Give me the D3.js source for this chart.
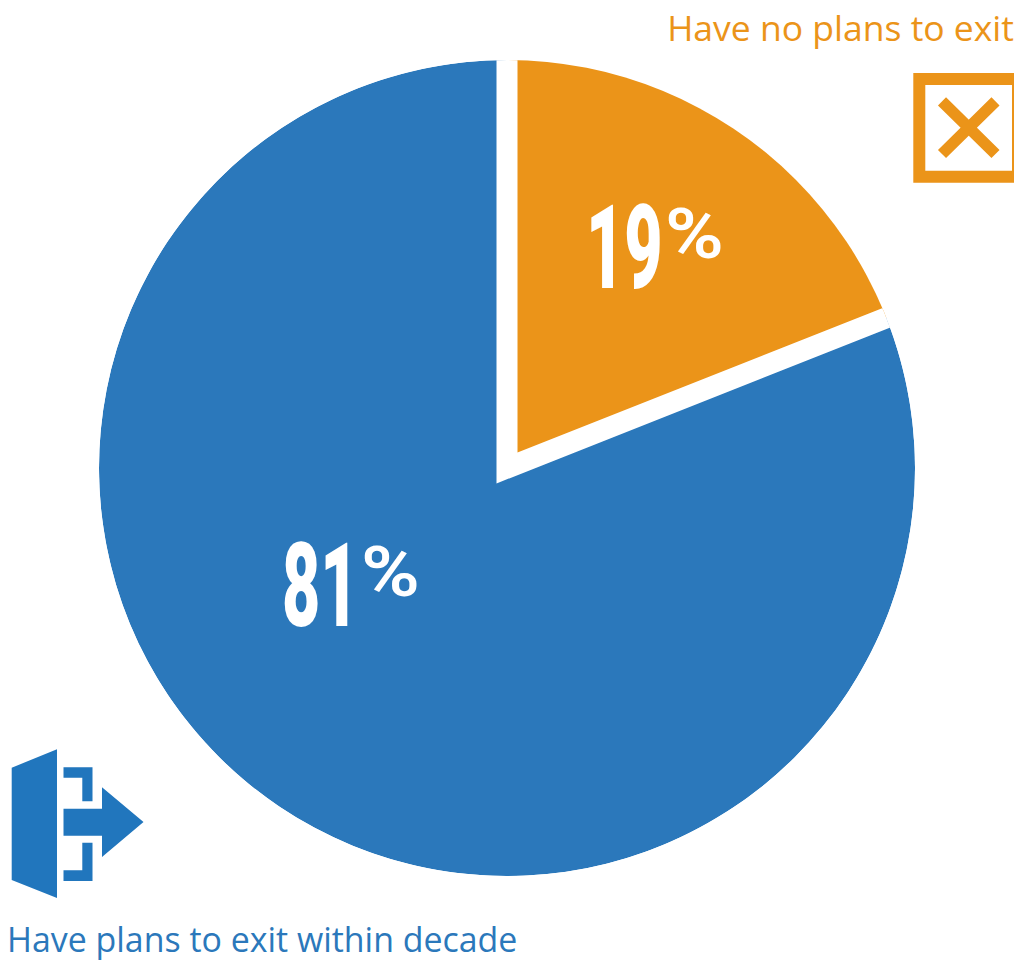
<!DOCTYPE html>
<html>
<head>
<meta charset="utf-8">
<script src="https://cdn.jsdelivr.net/npm/d3@7"></script>
<style>
html, body { margin: 0; padding: 0; background: #fff; }
svg { display: block; }
</style>
</head>
<body>
<svg id="chart" width="1014" height="961"></svg>
<script>
// Survey answers, in clockwise order from twelve o'clock
const categories = ["Have no plans to exit", "Have plans to exit within decade"];
const shares = [19, 81];
const colors = ["#eb9419", "#2b78bb"];

const cx = 507, cy = 468, radius = 408, gap = 21;

const svg = d3.select("#chart");
const plot = svg.append("g").attr("transform", `translate(${cx},${cy})`);

const slices = d3.pie().sort(null).value(d => d)(shares);
const arc = d3.arc().innerRadius(0);

// The wedges share one circle; the clip keeps the separator from eating the rim
svg.append("clipPath").attr("id", "disc")
  .append("circle").attr("r", radius);

const wedges = plot.append("g").attr("clip-path", "url(#disc)");

// Large slice first, so the small slice's white outline cuts the separator
wedges.append("path")
  .attr("d", arc.outerRadius(radius)(slices[1]))
  .attr("fill", colors[1]);

wedges.append("path")
  .attr("d", arc.outerRadius(radius + 40)(slices[0]))
  .attr("fill", colors[0])
  .attr("stroke", "#fff")
  .attr("stroke-width", gap)
  .attr("stroke-linejoin", "miter");

// Condensed percentage label: tall heavy digits with a raised percent sign
function percentLabel(x, baseline, value) {
  const g = svg.append("g").attr("fill", "#fff").attr("font-family", "Roboto");
  g.append("text")
    .attr("transform", `translate(${x},${baseline}) scale(0.57,1)`)
    .attr("font-size", 116)
    .attr("font-weight", 900)
    .text(value);
  g.append("text")
    .attr("transform", `translate(${x + 79},${baseline - 30}) scale(1.14,1)`)
    .attr("font-size", 70)
    .attr("font-weight", 600)
    .text("%");
}
percentLabel(586, 288, shares[0]);
percentLabel(282, 626, shares[1]);

// Category captions
const captions = svg.append("g").attr("font-family", "'Open Sans'");
captions.append("text")
  .attr("x", 1014).attr("y", 41)
  .attr("font-size", 35.5)
  .attr("text-anchor", "end")
  .attr("fill", colors[0])
  .text(categories[0]);
captions.append("text")
  .attr("x", 7).attr("y", 952)
  .attr("font-size", 33.9)
  .attr("fill", colors[1])
  .text(categories[1]);

// Crossed-box icon; its right side runs past the page edge
const crossIcon = svg.append("g").attr("fill", "none").attr("stroke", colors[0]);
crossIcon.append("path")
  .attr("d", "M1018,79 H919.3 V176.8 H1018 Z")
  .attr("stroke-width", 12);
crossIcon.append("path")
  .attr("d", "M942,101.3 L995.5,154 M995.5,101.3 L942,154")
  .attr("stroke-width", 11.5);

// Door-and-arrow exit icon
svg.append("path")
  .attr("fill", "#2176bd")
  .attr("d", "M11.7,767.7 L57,749.3 V898 L11.7,880 Z" +
    "M63.5,767.3 H92.5 V801.3 H82.3 V777.7 H63.5 Z" +
    "M63.5,808.7 H102 V787.3 L143.5,822 L102,857 V835.7 H63.5 Z" +
    "M82.3,842.7 H92.5 V881 H63.5 V870.3 H82.3 Z");
</script>
</body>
</html>
